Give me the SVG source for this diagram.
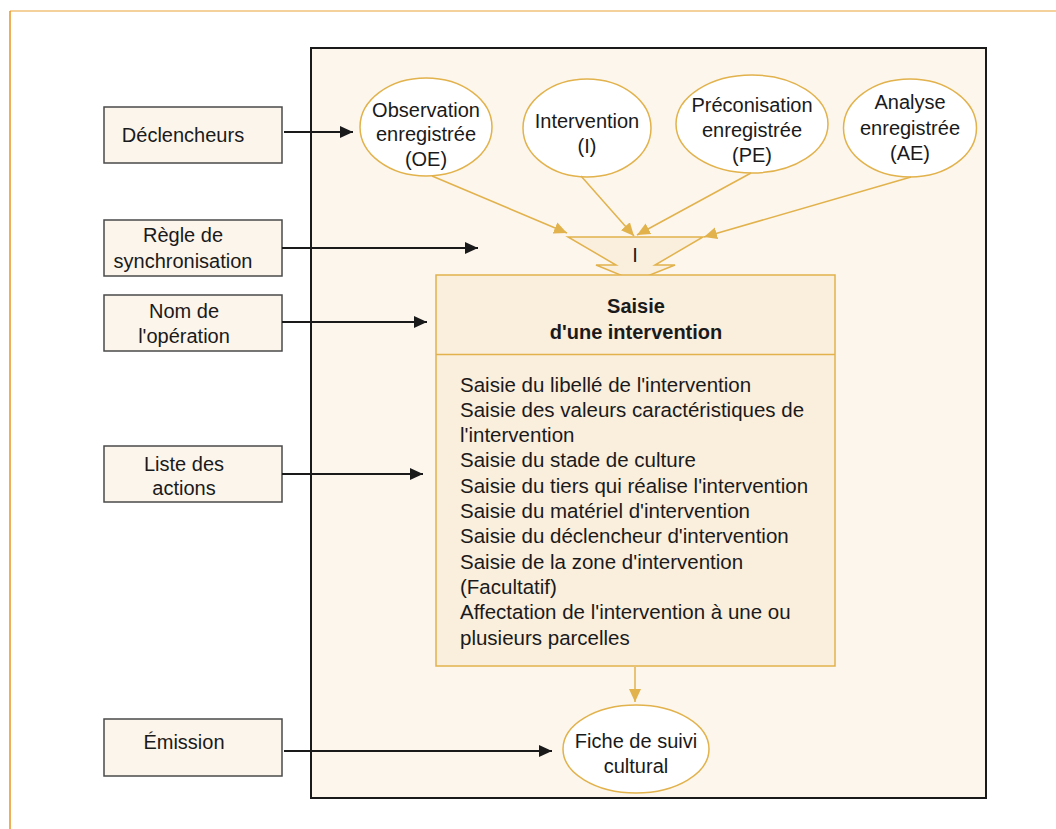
<svg xmlns="http://www.w3.org/2000/svg" width="1056" height="829" viewBox="0 0 1056 829">
<style>
text{font-family:"Liberation Sans",Arial,sans-serif;font-size:20px;fill:#1a1a1a}
.c{text-anchor:middle}
.b{font-weight:bold}
.lbl{fill:#fcf5ec;stroke:#4a4a4a;stroke-width:1.5}
.ell{fill:#ffffff;stroke:#e2b24c;stroke-width:1.5}
.gold{stroke:#e2b24c;stroke-width:1.5;fill:none}
.blk{stroke:#1a1a1a;stroke-width:2;fill:none}
.body{font-size:20.5px}
</style>
<defs>
<marker id="ab" markerUnits="userSpaceOnUse" markerWidth="14" markerHeight="14" viewBox="0 0 14 14" refX="13" refY="7" orient="auto"><path d="M0,1 L13,7 L0,13 Z" fill="#1a1a1a"/></marker>
<marker id="ag" markerUnits="userSpaceOnUse" markerWidth="14" markerHeight="14" viewBox="0 0 14 14" refX="13" refY="7" orient="auto"><path d="M0,1 L13,7 L0,13 Z" fill="#e2b24c"/></marker>
</defs>
<rect width="1056" height="829" fill="#ffffff"/>
<g id="frame">
<line x1="10" y1="11" x2="1056" y2="11" stroke="#f0c078" stroke-width="1.5"/>
<line x1="10" y1="11" x2="10" y2="829" stroke="#e8961e" stroke-width="1.5"/>
</g>
<g id="container"><rect x="311" y="48" width="675" height="750" fill="#fcf6ed" stroke="#1a1a1a" stroke-width="2"/></g>

<g id="declencheurs"><rect class="lbl" x="104" y="107" width="178" height="56"/><text class="c" x="183" y="141.5">Déclencheurs</text></g>
<g id="regle"><rect class="lbl" x="104" y="220" width="178" height="56"/><text class="c" x="183" y="242">Règle de</text><text class="c" x="183" y="268">synchronisation</text></g>
<g id="nom"><rect class="lbl" x="104" y="295" width="178" height="56"/><text class="c" x="184" y="318">Nom de</text><text class="c" x="184" y="343">l'opération</text></g>
<g id="liste"><rect class="lbl" x="104" y="446" width="178" height="56"/><text class="c" x="184" y="471">Liste des</text><text class="c" x="184" y="495">actions</text></g>
<g id="emission"><rect class="lbl" x="104" y="719" width="178" height="57"/><text class="c" x="184" y="749">Émission</text></g>

<g id="oe"><ellipse class="ell" cx="426" cy="127" rx="66" ry="49"/><text class="c" x="426" y="116.5">Observation</text><text class="c" x="426" y="141">enregistrée</text><text class="c" x="426" y="165.5">(OE)</text></g>
<g id="i"><ellipse class="ell" cx="587" cy="128" rx="64" ry="49"/><text class="c" x="587" y="127.5">Intervention</text><text class="c" x="587" y="152.5">(I)</text></g>
<g id="pe"><ellipse class="ell" cx="752" cy="124" rx="76" ry="49"/><text class="c" x="752" y="111.5">Préconisation</text><text class="c" x="752" y="136.5">enregistrée</text><text class="c" x="752" y="162">(PE)</text></g>
<g id="ae"><ellipse class="ell" cx="910" cy="128" rx="66.5" ry="49"/><text class="c" x="910" y="109">Analyse</text><text class="c" x="910" y="135">enregistrée</text><text class="c" x="910" y="160">(AE)</text></g>

<g id="sync"><polygon points="568,237 703,237 655,265 675,265 635,281 596,265 616,265" fill="#faeedd" stroke="#e2b24c" stroke-width="1.5"/><text class="c" x="635" y="262">I</text></g>

<g id="operation">
<rect x="436" y="275" width="399" height="391" fill="#faeedd" stroke="#e2b24c" stroke-width="1.5"/>
<line x1="436" y1="354.5" x2="835" y2="354.5" stroke="#e2b24c" stroke-width="1.5"/>
<text class="c b" x="636" y="313">Saisie</text>
<text class="c b" x="636" y="339">d'une intervention</text>
<g class="body">
<text class="body" x="460" y="391.5">Saisie du libellé de l'intervention</text>
<text class="body" x="460" y="416.8">Saisie des valeurs caractéristiques de</text>
<text class="body" x="460" y="442.1">l'intervention</text>
<text class="body" x="460" y="467.4">Saisie du stade de culture</text>
<text class="body" x="460" y="492.7">Saisie du tiers qui réalise l'intervention</text>
<text class="body" x="460" y="518">Saisie du matériel d'intervention</text>
<text class="body" x="460" y="543.3">Saisie du déclencheur d'intervention</text>
<text class="body" x="460" y="568.6">Saisie de la zone d'intervention</text>
<text class="body" x="460" y="593.9">(Facultatif)</text>
<text class="body" x="460" y="619.2">Affectation de l'intervention à une ou</text>
<text class="body" x="460" y="644.5">plusieurs parcelles</text>
</g>
</g>

<g id="fiche"><ellipse class="ell" cx="636" cy="749" rx="73" ry="44"/><text class="c" x="636" y="748">Fiche de suivi</text><text class="c" x="636" y="773">cultural</text></g>

<g id="connectors">
<line class="blk" x1="284" y1="132" x2="353" y2="132" marker-end="url(#ab)"/>
<line class="blk" x1="282" y1="248" x2="478" y2="248" marker-end="url(#ab)"/>
<line class="blk" x1="282" y1="322" x2="427" y2="322" marker-end="url(#ab)"/>
<line class="blk" x1="282" y1="474" x2="423" y2="474" marker-end="url(#ab)"/>
<line class="blk" x1="284" y1="751" x2="552" y2="751" marker-end="url(#ab)"/>
<line class="gold" x1="432" y1="176" x2="567" y2="233" marker-end="url(#ag)"/>
<line class="gold" x1="581" y1="176" x2="634" y2="236" marker-end="url(#ag)"/>
<line class="gold" x1="751" y1="173" x2="637" y2="235" marker-end="url(#ag)"/>
<line class="gold" x1="911" y1="177" x2="704" y2="237" marker-end="url(#ag)"/>
<line class="gold" x1="635" y1="667" x2="635" y2="702" marker-end="url(#ag)"/>
</g>
</svg>
